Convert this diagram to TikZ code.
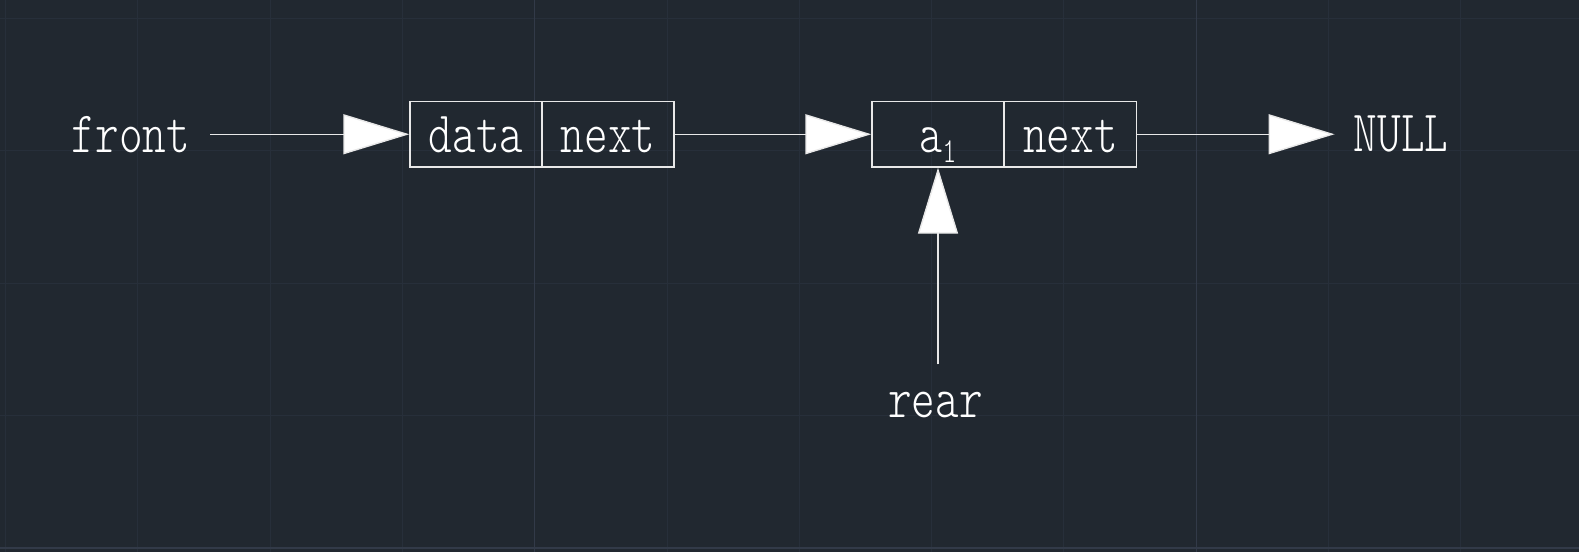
\documentclass[tikz,border=0pt]{standalone}
\usepackage{fontspec}
\usepackage{graphicx}
\usetikzlibrary{arrows.meta}
\newfontfamily\lightmono{Latin Modern Mono Light}
\definecolor{bg}{RGB}{33,40,48}
\definecolor{gridminor}{RGB}{39,47,58}
\definecolor{gridmajor}{RGB}{50,58,72}
\definecolor{ink}{RGB}{232,232,232}
\newcommand{\stretchtext}[1]{\scalebox{1}[1.3]{#1}}
\begin{document}
\begin{tikzpicture}[x=1pt,y=-1pt,
  lbl/.style={inner sep=0pt, text=white, font=\lightmono\fontsize{45}{50}\selectfont},
  cell/.style={draw=ink, line width=1.4pt, minimum width=132pt, minimum height=65.5pt,
    inner sep=0pt, text height=36pt, text depth=0pt, text=white,
    font=\lightmono\fontsize{45}{50}\selectfont},
  arr/.style={draw=ink, line width=1.4pt, -{Triangle[length=66pt,width=40pt,fill=white]}},
  gminor/.style={draw=gridminor, line width=1pt},
  gmajor/.style={draw=gridmajor, line width=1.2pt}
]
% background and grid
\fill[bg] (0,0) rectangle (1579,552);
\useasboundingbox (0,0) rectangle (1579,552);
\foreach \i in {0,...,11} \draw[gminor] ({5.5+132.3*\i},0) -- ({5.5+132.3*\i},552);
\foreach \j in {0,...,3} \draw[gminor] (0,{18.3+132.4*\j}) -- (1579,{18.3+132.4*\j});
\draw[gmajor] (534.7,0) -- (534.7,552);
\draw[gmajor] (1196.2,0) -- (1196.2,552);
\draw[gmajor] (0,547.9) -- (1579,547.9);

% cells
\node[cell] (d1) at (476,134.25) {\stretchtext{data}};
\node[cell] (n1) at (608,134.25) {\stretchtext{next}};
\node[cell] (a1) at (938,134.25) {\stretchtext{{\fontsize{44}{44}\selectfont a}\raisebox{-7.5pt}{\fontsize{27}{27}\selectfont 1}}};
\node[cell] (n2) at (1070.5,134.25) {\stretchtext{next}};

% labels
\node[lbl, anchor=base] (front) at (131,152) {\stretchtext{front}};
\node[lbl, anchor=base] (null) at (1401,151) {\stretchtext{NULL}};
\node[lbl, anchor=base] (rear) at (935.5,417) {\stretchtext{rear}};

% connectors
\draw[arr, shorten <=20pt] (front.east |- d1.west) -- (d1.west);
\draw[arr] (n1.east) -- (a1.west);
\draw[arr, shorten >=19pt] (n2.east) -- (n2.east -| null.west);
\draw[arr, shorten <=27pt] (a1.south |- rear.north) -- (a1.south);
\end{tikzpicture}
\end{document}
